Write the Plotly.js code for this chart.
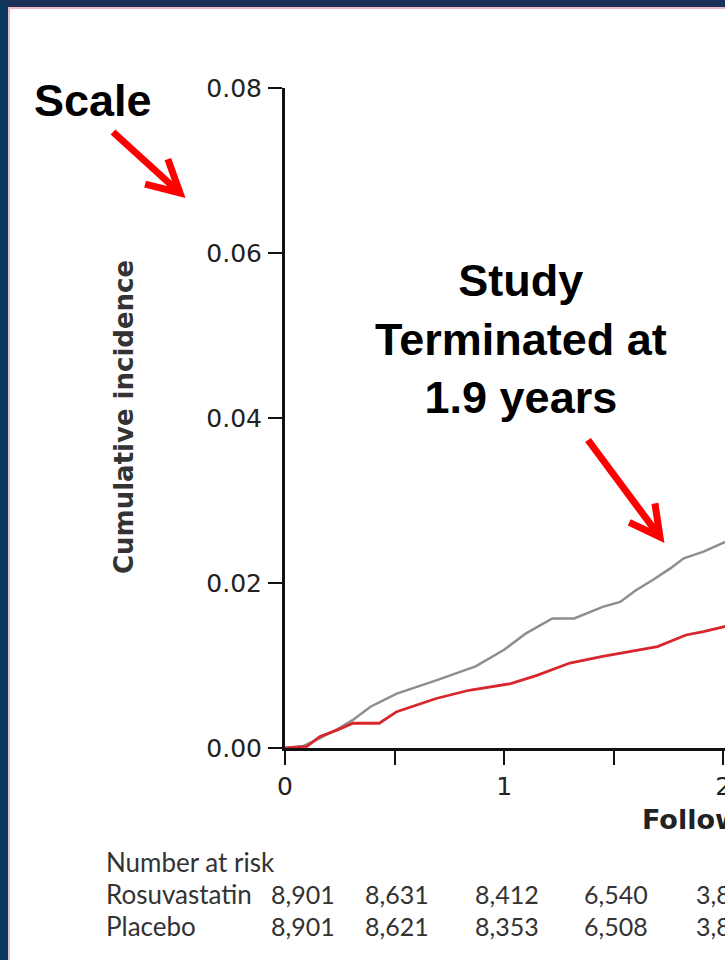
<!DOCTYPE html>
<html>
<head>
<meta charset="utf-8">
<script src="https://cdn.plot.ly/plotly-3.0.1.min.js"></script>
<style>
  html, body { margin:0; padding:0; overflow:hidden; background:#fff; width:725px; height:960px; }
  #chart { position:absolute; left:0; top:0; }
  #frame { position:absolute; left:0; top:0; width:725px; height:960px; box-sizing:border-box;
           border-top:7px solid #1b3159; border-left:8px solid #0c3a5f; pointer-events:none; z-index:10; }
  #frame2 { position:absolute; left:8px; top:7px; width:717px; height:953px; box-sizing:border-box;
           border-top:2px solid #e9bccb; border-left:2px solid #e9bccb; pointer-events:none; z-index:10; }
</style>
</head>
<body>
<div id="chart"></div>
<div id="frame"></div>
<div id="frame2"></div>
<script>
// ---- data ----
const placeboYears = [0, 0.08, 0.16, 0.24, 0.31, 0.39, 0.51, 0.69, 0.87, 1.00, 1.10, 1.22, 1.32, 1.45, 1.53, 1.60, 1.68, 1.76, 1.82, 1.91, 2.02];
const placeboIncidence = [0, 0.0002, 0.0012, 0.0023, 0.0034, 0.0050, 0.0066, 0.0082, 0.0099, 0.0119, 0.0139, 0.0157, 0.0157, 0.0171, 0.0177, 0.0191, 0.0204, 0.0218, 0.0230, 0.0238, 0.0251];

const rosuYears = [0, 0.10, 0.16, 0.24, 0.31, 0.43, 0.51, 0.69, 0.84, 1.03, 1.15, 1.30, 1.45, 1.57, 1.70, 1.83, 1.91, 2.02];
const rosuIncidence = [0, 0.0002, 0.0014, 0.0022, 0.0030, 0.0030, 0.0044, 0.0060, 0.0070, 0.0078, 0.0088, 0.0103, 0.0111, 0.0117, 0.0123, 0.0137, 0.0141, 0.0148];

const xTickVals = [0, 0.5, 1, 1.5, 2, 2.5, 3, 3.5, 4, 4.5];
const xTickText = ['0', '', '1', '', '2', '', '3', '', '4', ''];
const yTickVals = [0, 0.02, 0.04, 0.06, 0.08];

const riskTimes = [0, 0.5, 1, 1.5, 2];
const riskRosuvastatin = ['8,901', '8,631', '8,412', '6,540', '3,893'];
const riskPlacebo = ['8,901', '8,621', '8,353', '6,508', '3,872'];
const riskLabels = ['Number at risk', 'Rosuvastatin', 'Placebo'];

// ---- layout geometry ----
const L = 285, T = 88, PW = 986, PH = 660, W = 1320, H = 960;
const px = x => (x - L) / PW;
const py = y => 1 - (y - T) / PH;
const riskColShift = [18, 2, 3, 2, 5];

function arrowPath(tail, tip, len, angDeg) {
  const dx = tip[0] - tail[0], dy = tip[1] - tail[1];
  const d = Math.hypot(dx, dy);
  const bx = -dx / d, by = -dy / d;
  const a = angDeg * Math.PI / 180, c = Math.cos(a), s = Math.sin(a);
  const b1 = [tip[0] + len * (bx * c - by * s), tip[1] + len * (bx * s + by * c)];
  const b2 = [tip[0] + len * (bx * c + by * s), tip[1] + len * (-bx * s + by * c)];
  const P = p => px(p[0]) + ',' + py(p[1]);
  return 'M' + P(tail) + ' L' + P(tip) + ' M' + P(b1) + ' L' + P(tip) + ' L' + P(b2);
}

const traces = [
  { x: placeboYears, y: placeboIncidence, type: 'scatter', mode: 'lines', name: 'Placebo',
    line: { color: '#8e8e8e', width: 2.5 } },
  { x: rosuYears, y: rosuIncidence, type: 'scatter', mode: 'lines', name: 'Rosuvastatin',
    line: { color: '#d8262c', width: 2.8 } }
];

const tableFont = { family: 'Lato', size: 25, color: '#333' };
const annotations = [
  { text: '<b>Scale</b>', x: px(93), y: py(101), xref: 'paper', yref: 'paper', xanchor: 'center', yanchor: 'middle',
    showarrow: false, font: { family: 'Liberation Sans, Arial', size: 45, color: '#000' } },
  { text: '<b>Study<br>Terminated at<br>1.9 years</b>', x: px(521), y: py(339), xref: 'paper', yref: 'paper',
    xanchor: 'center', yanchor: 'middle', showarrow: false, align: 'center',
    font: { family: 'Liberation Sans, Arial', size: 45, color: '#000' } },
  { text: 'Cumulative incidence', x: px(124), y: py(417), xref: 'paper', yref: 'paper', textangle: -90,
    xanchor: 'center', yanchor: 'middle', showarrow: false,
    font: { family: 'DejaVu Sans', size: 26, color: '#333', weight: 'bold' } },
  { text: '<b>Follow-up (years)</b>', x: px(640), y: py(819), xref: 'paper', yref: 'paper', xanchor: 'left', yanchor: 'middle',
    showarrow: false, font: { family: 'DejaVu Sans', size: 27, color: '#222' } },
  { text: riskLabels[0], x: px(104), y: py(862), xref: 'paper', yref: 'paper', xanchor: 'left', yanchor: 'middle',
    showarrow: false, font: { family: 'Lato', size: 26, color: '#333' } },
  { text: riskLabels[1], x: px(104), y: py(894), xref: 'paper', yref: 'paper', xanchor: 'left', yanchor: 'middle',
    showarrow: false, font: { family: 'Lato', size: 26, color: '#333' } },
  { text: riskLabels[2], x: px(104), y: py(926), xref: 'paper', yref: 'paper', xanchor: 'left', yanchor: 'middle',
    showarrow: false, font: { family: 'Lato', size: 26, color: '#333' } }
];
riskTimes.forEach((t, i) => {
  annotations.push({ text: riskRosuvastatin[i], x: t, xref: 'x', y: py(894), yref: 'paper', xanchor: 'center', yanchor: 'middle',
    xshift: riskColShift[i], showarrow: false, font: tableFont });
  annotations.push({ text: riskPlacebo[i], x: t, xref: 'x', y: py(926), yref: 'paper', xanchor: 'center', yanchor: 'middle',
    xshift: riskColShift[i], showarrow: false, font: tableFont });
});

const shapes = [
  { type: 'path', xref: 'paper', yref: 'paper', layer: 'above', path: arrowPath([113, 132], [180, 193], 36, 28),
    line: { color: '#ff0000', width: 7 } },
  { type: 'path', xref: 'paper', yref: 'paper', layer: 'above', path: arrowPath([588, 440], [660, 537], 34, 28),
    line: { color: '#ff0000', width: 7 } }
];

const axisCommon = {
  showline: true, linewidth: 3, linecolor: '#111', ticks: 'outside', ticklen: 14, tickwidth: 2, tickcolor: '#111',
  showgrid: false, zeroline: false, tickfont: { family: 'DejaVu Sans', size: 25, color: '#222' }, fixedrange: true
};

const layout = {
  width: W, height: H,
  margin: { l: L, r: W - L - PW, t: T, b: H - T - PH, pad: 0 },
  paper_bgcolor: '#ffffff', plot_bgcolor: '#ffffff',
  showlegend: false,
  xaxis: Object.assign({}, axisCommon, { range: [0, 4.5], tickmode: 'array', tickvals: xTickVals, ticktext: xTickText, ticklabelstandoff: 0 }),
  yaxis: Object.assign({}, axisCommon, { range: [0, 0.08], tickmode: 'array', tickvals: yTickVals, tickformat: '.2f', ticklabelstandoff: 1 }),
  annotations: annotations,
  shapes: shapes
};

Plotly.newPlot('chart', traces, layout, { displayModeBar: false, staticPlot: true });
</script>
</body>
</html>
